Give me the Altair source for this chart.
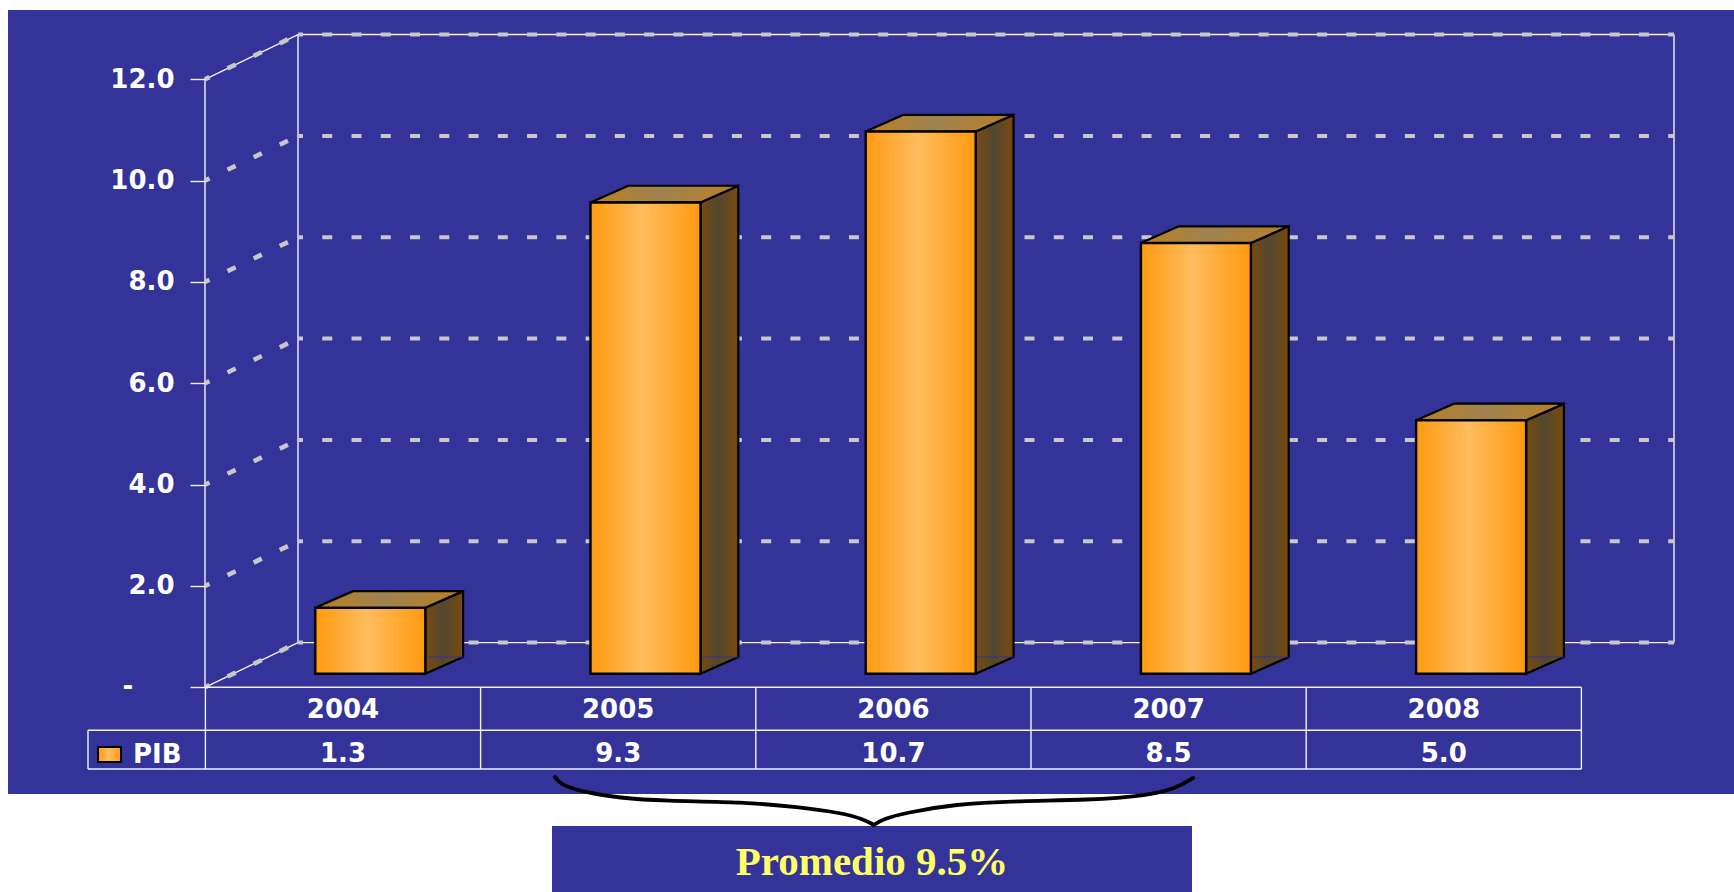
import altair as alt
import pandas as pd

# Chart values
years = [2004, 2005, 2006, 2007, 2008]
pib = [1.3, 9.3, 10.7, 8.5, 5.0]
y_ticks = [0, 2, 4, 6, 8, 10, 12]
average_label = "Promedio 9.5%"
series_label = "PIB"

# Canvas size and the two linear scales, expressed as pixels per data unit
W, H = 1734, 892
PX_PER_YEAR = 275.2
PX_PER_PCT = 50.67
X_2004 = 343.0
Y_ZERO = 687.3


def year_at(px):
    return 2004 + (px - X_2004) / PX_PER_YEAR


def pct_at(py):
    return (Y_ZERO - py) / PX_PER_PCT


# Pseudo-3D geometry in data units
WALL_DX = 93 / PX_PER_YEAR
WALL_DY = 44.7 / PX_PER_PCT
BAR_SHIFT = 27.3 / PX_PER_YEAR
BAR_HALF = 55 / PX_PER_YEAR
BAR_LIFT = 13.6 / PX_PER_PCT
BAR_DX = 37.8 / PX_PER_YEAR
BAR_DY = 16.7 / PX_PER_PCT

X_SCALE = alt.Scale(domain=[year_at(0), year_at(W)], nice=False, zero=False)
Y_SCALE = alt.Scale(domain=[pct_at(H), pct_at(0)], nice=False, zero=False)

AXIS_FONT = "DejaVu Sans"
BLUE = "#333399"
WHITE_LINE = "#F2F2F8"
DASH_GREY = "#C8C8C8"
TEXT_SIZE = 26

# Value axis sits on the front edge of the side wall; zero gets its own dash label
Y_AXIS = alt.Axis(
    title=None,
    values=y_ticks,
    orient="left",
    offset=-205,
    domain=False,
    grid=False,
    ticks=True,
    tickColor=WHITE_LINE,
    tickWidth=1.4,
    tickSize=15,
    labelPadding=16,
    labelFont=AXIS_FONT,
    labelFontWeight="bold",
    labelFontSize=TEXT_SIZE,
    labelColor="white",
    labelExpr="datum.value == 0 ? '' : format(datum.value, '.1f')",
    zindex=1,
)


def ex(field):
    return alt.X(field, type="quantitative", scale=X_SCALE, axis=None, stack=None)


def ey(field):
    return alt.Y(field, type="quantitative", scale=Y_SCALE, axis=Y_AXIS, stack=None)


def h_gradient(edge, centre):
    return alt.LinearGradient(
        gradient="linear", x1=0, x2=1, y1=0, y2=0,
        stops=[
            alt.GradientStop(color=edge, offset=0),
            alt.GradientStop(color=centre, offset=0.47),
            alt.GradientStop(color=edge, offset=1),
        ],
    )


def segments(rows, **mark):
    df = pd.DataFrame(rows, columns=["x0", "x1", "y0", "y1"])
    return alt.Chart(df).mark_rule(**mark).encode(
        x=ex("x0"), x2=alt.X2("x1"), y=ey("y0"), y2=alt.Y2("y1")
    )


# Background panels
panel = alt.Chart(pd.DataFrame({"a": [0]})).mark_rect(color=BLUE).encode(
    x=alt.value(8), x2=alt.value(W), y=alt.value(10), y2=alt.value(794)
)
note_box = alt.Chart(pd.DataFrame({"a": [0]})).mark_rect(color=BLUE).encode(
    x=alt.value(552), x2=alt.value(1192), y=alt.value(826), y2=alt.value(H)
)

# Side wall, back wall and floor of the plot box
left, right = year_at(205), year_at(1674)
back = left + WALL_DX
top_tick = max(y_ticks)
wall_lines = segments(
    [
        [left, left, 0, top_tick],
        [back, back, WALL_DY, top_tick + WALL_DY],
        [right, right, WALL_DY, top_tick + WALL_DY],
        [back, right, top_tick + WALL_DY, top_tick + WALL_DY],
        [back, right, WALL_DY, WALL_DY],
        [left, back, top_tick, top_tick + WALL_DY],
        [left, back, 0, WALL_DY],
    ],
    color=WHITE_LINE,
    strokeWidth=1.4,
)

# Dashed gridlines, running along the side wall and then across the back wall
grid_back = segments(
    [[back, right, t + WALL_DY, t + WALL_DY] for t in y_ticks],
    color=DASH_GREY, strokeWidth=4, strokeDash=[10, 19.26], strokeDashOffset=5,
)
grid_side = segments(
    [[left, back, t, t + WALL_DY] for t in y_ticks],
    color=DASH_GREY, strokeWidth=4.6, strokeDash=[9, 20], strokeDashOffset=4,
)

# Bars: a front face plus slanted side and top faces
bars = pd.DataFrame({"year": years, "pib": pib})
bars["x0"] = bars["year"] + BAR_SHIFT - BAR_HALF
bars["x1"] = bars["year"] + BAR_SHIFT + BAR_HALF
bars["base"] = BAR_LIFT
bars["top"] = bars["pib"] + BAR_LIFT

side_rows, top_rows = [], []
for row in bars.itertuples():
    for t in (0, 1):
        side_rows.append(
            dict(year=row.year, x=row.x1 + t * BAR_DX,
                 lo=row.base + t * BAR_DY, hi=row.top + t * BAR_DY)
        )
        top_rows.append(
            dict(year=row.year, y=row.top + t * BAR_DY,
                 xa=row.x0 + t * BAR_DX, xb=row.x1 + t * BAR_DX)
        )

bar_side = alt.Chart(pd.DataFrame(side_rows)).mark_area(
    fill=h_gradient("#784A0E", "#53472F"), stroke="black", strokeWidth=2.2, strokeJoin="miter"
).encode(x=ex("x"), y=ey("lo"), y2=alt.Y2("hi"), detail="year:N")

bar_top = alt.Chart(pd.DataFrame(top_rows)).mark_area(
    orient="horizontal",
    fill=h_gradient("#BA7F24", "#9F824F"), stroke="black", strokeWidth=2.2, strokeJoin="miter",
).encode(y=ey("y"), x=ex("xa"), x2=alt.X2("xb"), detail="year:N")

bar_floor_edge = alt.Chart(bars).transform_calculate(
    floor=f"datum.base + {BAR_DY}", x_end=f"datum.x1 + {BAR_DX}"
).mark_rule(color=BLUE, strokeWidth=1).encode(
    x=ex("x1"), x2=alt.X2("x_end"), y=ey("floor")
)

bar_front = alt.Chart(bars).mark_rect(
    fill=h_gradient("#FF9A10", "#FFBC5E"), stroke="black", strokeWidth=2.4
).encode(x=ex("x0"), x2=alt.X2("x1"), y=ey("top"), y2=alt.Y2("base"))

# Data table below the plot
row_0, row_1, row_2 = 0, pct_at(730.3), pct_at(769)
table_left, table_right = year_at(88), years[-1] + 0.5
edges = [years[0] - 0.5] + [y + 0.5 for y in years]
table_lines = segments(
    [[table_left, table_right, row_1, row_1],
     [table_left, table_right, row_2, row_2],
     [left, table_right, row_0, row_0],
     [table_left, table_left, row_1, row_2]]
    + [[e, e, row_0, row_2] for e in edges],
    color=WHITE_LINE, strokeWidth=1.4,
)

table = bars.assign(row_year=pct_at(710), row_value=pct_at(754))
text_style = dict(font=AXIS_FONT, fontWeight="bold", fontSize=TEXT_SIZE, color="white", baseline="middle")
year_text = alt.Chart(table).mark_text(**text_style).encode(
    x=ex("year"), y=ey("row_year"), text=alt.Text("year:Q", format="d")
)
value_text = alt.Chart(table).mark_text(**text_style).encode(
    x=ex("year"), y=ey("row_value"), text=alt.Text("pib:Q", format=".1f")
)

# Zero on the value axis is printed as a dash, set in from the other labels
zero_label = alt.Chart(pd.DataFrame({"tick": [0], "label": ["-"]})).mark_text(**text_style).encode(
    x=alt.value(128), y=ey("tick"), text="label:N"
)

# Legend key and series name in the table's first column
swatch = alt.Chart(pd.DataFrame({"a": [0]})).mark_rect(
    fill=h_gradient("#FF9A10", "#FFBC5E"), stroke="black", strokeWidth=2
).encode(x=alt.value(98), x2=alt.value(121), y=alt.value(747), y2=alt.value(762))
legend_text = alt.Chart(pd.DataFrame({"label": [series_label]})).mark_text(
    align="left", **text_style
).encode(x=alt.value(133), y=alt.value(755), text="label:N")

# Brace spanning 2005-2007, as two strokes meeting at the tip
brace_left_x = [555, 561, 584, 619, 664, 744, 798, 842, 863, 874]
brace_left_y = [777, 785, 792, 798, 801, 802, 807, 813, 819, 825]
brace_right_x = [874, 883, 905, 954, 1021, 1088, 1146, 1177, 1193]
brace_right_y = [825, 819, 813, 804, 801, 800, 796, 788, 778]
brace_rows = pd.DataFrame(
    [dict(part="a", x=year_at(x), y=pct_at(y)) for x, y in zip(brace_left_x, brace_left_y)]
    + [dict(part="b", x=year_at(x), y=pct_at(y)) for x, y in zip(brace_right_x, brace_right_y)]
)
brace = alt.Chart(brace_rows).mark_line(
    color="black", strokeWidth=3.8, interpolate="basis", strokeCap="round"
).encode(x=ex("x"), y=ey("y"), detail="part:N")

note_text = alt.Chart(pd.DataFrame({"label": [average_label]})).mark_text(
    font="Liberation Serif", fontWeight="bold", fontSize=41, color="#FFFF66",
    align="center", baseline="alphabetic",
).encode(x=alt.value(872), y=alt.value(875), text="label:N")

chart = alt.layer(
    panel, note_box, wall_lines, grid_back, grid_side,
    bar_side, bar_floor_edge, bar_top, bar_front,
    table_lines, year_text, value_text, zero_label, swatch, legend_text,
    brace, note_text,
).properties(
    width=W, height=H, padding=0, autosize="none", background="white"
).configure_view(stroke=None)

chart.save("out.html", embed_options={"renderer": "svg", "actions": False})
